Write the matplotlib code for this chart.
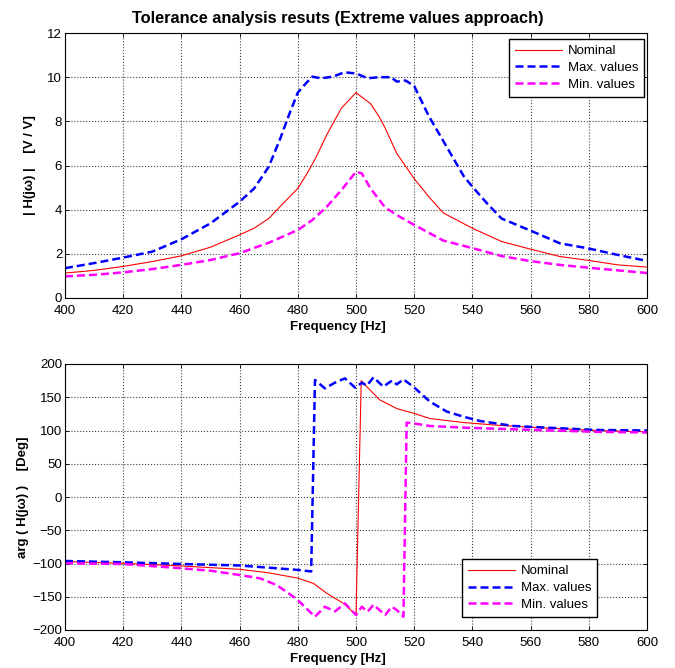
import matplotlib
matplotlib.use("Agg")
import matplotlib.pyplot as plt

# ---------------- data ----------------
freq_nom_mag = [400, 410, 420, 430, 440, 450, 460, 465, 470, 475, 480, 483, 486, 490, 495, 500,
                505, 508, 510, 514, 520, 525, 530, 540, 550, 560, 570, 580, 590, 600]
nom_mag = [1.13, 1.25, 1.43, 1.65, 1.91, 2.3, 2.86, 3.16, 3.6, 4.29, 4.96, 5.6, 6.3, 7.4, 8.6,
           9.3, 8.8, 8.2, 7.7, 6.55, 5.4, 4.59, 3.85, 3.16, 2.56, 2.21, 1.88, 1.70, 1.50, 1.40]

freq_max_mag = [400, 410, 420, 430, 440, 450, 460, 465, 470, 474, 477, 480, 483, 485, 488, 492,
                496, 500, 504, 508, 512, 514, 517, 520, 525, 531, 537, 540, 545, 550, 560, 570,
                580, 590, 600]
max_mag = [1.35, 1.58, 1.83, 2.1, 2.66, 3.38, 4.36, 4.96, 5.94, 7.23, 8.3, 9.3, 9.75, 10.02,
           9.95, 10.02, 10.22, 10.17, 9.95, 10.0, 10.0, 9.8, 9.85, 9.6, 8.24, 6.88, 5.52, 5.04,
           4.29, 3.6, 3.05, 2.48, 2.24, 1.95, 1.68]

freq_min_mag = [400, 410, 420, 430, 440, 450, 460, 470, 480, 485, 490, 495, 500, 502, 505, 510,
                515, 520, 530, 540, 550, 560, 570, 580, 590, 600]
min_mag = [0.98, 1.05, 1.16, 1.31, 1.5, 1.72, 2.03, 2.5, 3.08, 3.53, 4.14, 4.89, 5.72, 5.64,
           4.96, 4.1, 3.68, 3.31, 2.6, 2.26, 1.9, 1.67, 1.5, 1.37, 1.25, 1.13]

freq_nom_ph = [400, 420, 440, 460, 470, 480, 485.4, 490, 495.7, 500, 501.8, 503.7, 508.2, 514,
               519.7, 525.4, 536.9, 548.3, 559.8, 582.7, 600]
nom_ph = [-97.2, -99.7, -103.7, -108.7, -114, -122, -130, -145, -160, -177, 175, 166, 146, 133,
          126, 118, 112, 108, 105, 100, 98]

freq_max_ph = [400, 420, 440, 460, 480, 484.6, 485.9, 489.3, 492.8, 496.2, 499.7, 502, 503.7,
               506, 509.4, 512.3, 514, 516.3, 519.7, 525.4, 531.2, 536.9, 542.6, 554.1, 565.5,
               582.7, 600]
max_ph = [-96.2, -98.2, -100.7, -103, -109.6, -112, 176, 163.4, 172, 178.4, 164.4, 171.9, 167.4,
          179.9, 165.9, 174.9, 169.4, 176.9, 165.9, 143.4, 128.4, 120.8, 114.3, 106.8, 104.3,
          100.8, 100]

freq_min_ph = [400, 420, 440, 450, 460, 467, 472.7, 478.5, 480, 485.9, 489.3, 492.8, 496.2, 500,
               502, 504, 506, 510, 512.3, 514, 516.3, 517.4, 519.7, 525.4, 536.9, 554.1,
               582.7, 600]
min_ph = [-99.7, -100.7, -107.2, -110.8, -117.3, -122.3, -132.3, -150, -155, -180, -165, -172,
          -160, -177.5, -165, -172.5, -162, -177.5, -165, -170, -180, 111.8, 110.8, 106.8,
          104.3, 101.8, 98, 97]

legend_labels = ["Nominal", "Max. values", "Min. values"]
title = "Tolerance analysis resuts (Extreme values approach)"
xlabel = "Frequency [Hz]"
ylabel_top = "| H(jω) |    [V / V]"
ylabel_bot = "arg ( H(jω) )    [Deg]"
xticks = list(range(400, 601, 20))
yticks_top = list(range(0, 13, 2))
yticks_bot = list(range(-200, 201, 50))

# ---------------- style ----------------
plt.rcParams['font.family'] = ['Liberation Sans', 'DejaVu Sans']
plt.rcParams['font.size'] = 9

W, H = 675, 668
fig = plt.figure(figsize=(W / 100, H / 100), dpi=100)

left = 65 / W
width = (647 - 65) / W
ax1 = fig.add_axes([left, 1 - 298 / H, width, (298 - 33) / H])
ax2 = fig.add_axes([left, 1 - 630 / H, width, (630 - 364) / H])

red = '#ff0000'
blue = '#0000ff'
mag = '#ff00ff'
dash = (3.2, 1.6)
label_x = (338 - 65) / 582


def style(ax, yticks, ylim):
    ax.set_xlim(400, 600)
    ax.set_ylim(*ylim)
    ax.set_xticks(xticks)
    ax.set_yticks(yticks)
    ax.grid(True, linestyle=':', color='#444444', linewidth=0.8)
    ax.tick_params(direction='in', top=True, right=True, length=3, width=0.6,
                   labelsize=9.5)
    ax.tick_params(axis='x', pad=5)
    ax.tick_params(axis='y', pad=2)
    for s in ax.spines.values():
        s.set_linewidth(0.8)
        s.set_color('black')
    ax.set_axisbelow(True)


ax1.plot(freq_nom_mag, nom_mag, color=red, lw=0.8, label=legend_labels[0])
ax1.plot(freq_max_mag, max_mag, color=blue, lw=1.8, ls=(0, dash), label=legend_labels[1])
ax1.plot(freq_min_mag, min_mag, color=mag, lw=1.8, ls=(0, dash), label=legend_labels[2])
style(ax1, yticks_top, (0, 12))
ax1.set_title(title, fontsize=11.8, fontweight='bold', pad=7, x=label_x)
ax1.set_xlabel(xlabel, fontsize=9.5, fontweight='bold', labelpad=3, x=label_x)
ax1.set_ylabel(ylabel_top, fontsize=9.5, fontweight='bold', labelpad=8)
leg1 = ax1.legend(loc='upper right', bbox_to_anchor=(1 - 3 / 582, 1 - 6 / 265),
                  borderaxespad=0, fancybox=False, edgecolor='black', framealpha=1,
                  fontsize=9.5, handlelength=3.6, handletextpad=0.4, borderpad=0.45,
                  labelspacing=0.35)
leg1.get_frame().set_linewidth(1.0)

ax2.plot(freq_nom_ph, nom_ph, color=red, lw=0.8, label=legend_labels[0])
ax2.plot(freq_max_ph, max_ph, color=blue, lw=1.8, ls=(0, dash), label=legend_labels[1])
ax2.plot(freq_min_ph, min_ph, color=mag, lw=1.8, ls=(0, dash), label=legend_labels[2])
style(ax2, yticks_bot, (-200, 200))
ax2.set_xlabel(xlabel, fontsize=9.5, fontweight='bold', labelpad=3, x=label_x)
ax2.set_ylabel(ylabel_bot, fontsize=9.5, fontweight='bold', labelpad=2)
leg2 = ax2.legend(loc='lower right', bbox_to_anchor=((597 - 65) / 582, 13 / 266),
                  borderaxespad=0, fancybox=False, edgecolor='black', framealpha=1,
                  fontsize=9.5, handlelength=3.6, handletextpad=0.4, borderpad=0.45,
                  labelspacing=0.35)
leg2.get_frame().set_linewidth(1.0)

fig.savefig('out.png', dpi=100, facecolor='white')
